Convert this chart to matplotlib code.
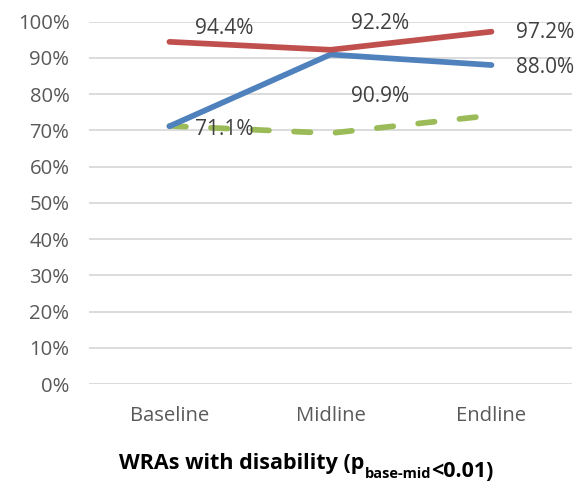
import matplotlib
matplotlib.use("Agg")
import matplotlib.pyplot as plt
from matplotlib.ticker import PercentFormatter

# data
categories = ["Baseline", "Midline", "Endline"]
red_vals = [94.4, 92.2, 97.2]
blue_vals = [71.1, 90.9, 88.0]
green_vals = [71.2, 69.2, 74.1]
yticks = list(range(0, 101, 10))

RED = "#C0504D"
BLUE = "#4F81BD"
GREEN = "#9BBB59"
GREY = "#595959"
LW = 4.1

plt.rcParams["font.family"] = ["Open Sans", "DejaVu Sans"]

fig = plt.figure(figsize=(5.81, 5.01), dpi=100)
ax = fig.add_axes([0.153, 0.2335, 0.8315, 0.7235])

x = list(range(len(categories)))
ax.plot(x, green_vals, color=GREEN, lw=LW, dashes=(2.9, 4.4),
        dash_capstyle="round", solid_capstyle="round", zorder=3)
ax.plot(x, blue_vals, color=BLUE, lw=LW, solid_capstyle="round", zorder=4)
ax.plot(x, red_vals, color=RED, lw=LW, solid_capstyle="round", zorder=5)

# label offsets in pixels (labels were moved by hand in the original)
red_off = [(55, 13), (50, 26), (54, -1)]
blue_off = [(55, -3), (50, -42), (54, -2)]
for vals, offs in ((red_vals, red_off), (blue_vals, blue_off)):
    for i, v in enumerate(vals):
        ax.annotate(f"{v:.1f}%", (i, v), xytext=offs[i], textcoords="offset pixels",
                    ha="center", va="center", fontsize=15, color="#404040", zorder=6)

ax.set_xlim(-0.5, 2.5)
ax.set_ylim(0, 100)
ax.set_yticks(yticks)
ax.yaxis.set_major_formatter(PercentFormatter(decimals=0))
ax.set_xticks(x)
ax.set_xticklabels(categories)
ax.grid(axis="y", color="#D9D9D9", lw=1.3, zorder=0)
ax.set_axisbelow(True)
for s in ax.spines.values():
    s.set_visible(False)
ax.tick_params(axis="both", length=0, labelsize=14.6, colors=GREY)
ax.tick_params(axis="y", pad=14)
ax.tick_params(axis="x", pad=16)

# title with subscript, pieces chained together
t1 = fig.text(0.205, 0.063, "WRAs with disability (p", fontsize=15.5, fontweight="bold",
              ha="left", va="baseline", color="black")
t2 = ax.annotate("base-mid", xy=(1, 0), xycoords=t1, xytext=(0, -4),
                 textcoords="offset pixels", fontsize=10.5, fontweight="bold",
                 ha="left", va="baseline", color="black", annotation_clip=False)
t3 = ax.annotate("<0.01)", xy=(1, 0), xycoords=t2, xytext=(0, 4),
                 textcoords="offset pixels", fontsize=15.5, fontweight="bold",
                 ha="left", va="baseline", color="black", annotation_clip=False)

fig.savefig("out.png", dpi=100)
